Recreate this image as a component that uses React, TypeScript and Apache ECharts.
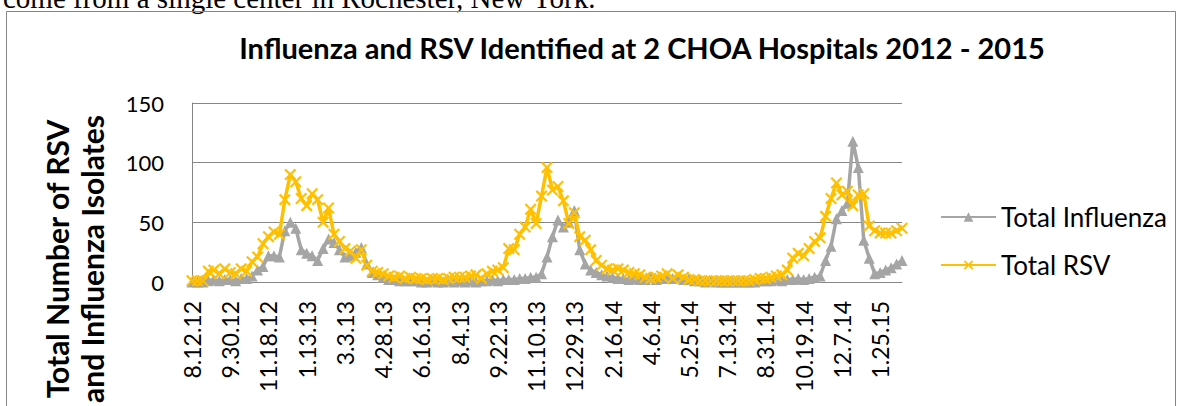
import React, { useEffect, useRef } from "react";
import * as echarts from "echarts";

const dates = ["8.12.12","8.19.12","8.26.12","9.2.12","9.9.12","9.16.12","9.23.12","9.30.12","10.7.12","10.14.12","10.21.12","10.28.12","11.4.12","11.11.12","11.18.12","11.25.12","12.2.12","12.9.12","12.16.12","12.30.12","1.6.13","1.13.13","1.20.13","1.27.13","2.3.13","2.10.13","2.17.13","2.24.13","3.3.13","3.10.13","3.17.13","3.24.13","3.31.13","4.14.13","4.21.13","4.28.13","5.5.13","5.12.13","5.19.13","5.26.13","6.2.13","6.9.13","6.16.13","6.23.13","6.30.13","7.7.13","7.14.13","7.21.13","7.28.13","8.4.13","8.11.13","8.18.13","8.25.13","9.1.13","9.8.13","9.15.13","9.22.13","9.29.13","10.6.13","10.13.13","10.20.13","10.27.13","11.3.13","11.10.13","11.17.13","11.24.13","12.1.13","12.8.13","12.15.13","12.22.13","12.29.13","1.5.14","1.12.14","1.19.14","1.26.14","2.2.14","2.9.14","2.16.14","2.23.14","3.2.14","3.9.14","3.16.14","3.23.14","3.30.14","4.6.14","4.13.14","4.20.14","4.27.14","5.4.14","5.11.14","5.18.14","5.25.14","6.1.14","6.8.14","6.15.14","6.22.14","6.29.14","7.6.14","7.13.14","7.20.14","7.27.14","8.3.14","8.10.14","8.17.14","8.24.14","8.31.14","9.7.14","9.14.14","9.21.14","9.28.14","10.5.14","10.12.14","10.19.14","10.26.14","11.2.14","11.9.14","11.16.14","11.23.14","11.30.14","12.7.14","12.14.14","12.21.14","12.28.14","1.4.15","1.11.15","1.18.15","1.25.15","2.1.15","2.8.15","2.15.15","2.22.15"];

const totalInfluenza = [
  0, 0, 0, 1, 2, 1, 2, 2, 1, 3,
  3, 5, 10, 13, 22, 22, 21, 43, 50, 45,
  27, 24, 22, 18, 28, 36, 33, 27, 21, 22,
  25, 29, 15, 8, 6, 4, 2, 2, 1, 1,
  1, 1, 0, 0, 1, 0, 0, 1, 0, 1,
  0, 1, 0, 1, 1, 2, 1, 2, 2, 2,
  3, 3, 4, 4, 7, 21, 38, 52, 46, 50,
  60, 27, 15, 10, 8, 6, 5, 4, 3, 3,
  2, 3, 2, 2, 4, 2, 3, 5, 3, 4,
  2, 3, 1, 1, 0, 1, 0, 0, 0, 0,
  0, 0, 0, 0, 1, 1, 1, 2, 1, 2,
  2, 3, 2, 3, 4, 5, 18, 30, 53, 60,
  66, 118, 96, 35, 20, 7, 8, 10, 12, 15,
  18
];

const totalRSV = [
  1, 1, 1, 9, 10, 7, 11, 8, 7, 11,
  9, 17, 21, 32, 38, 42, 40, 69, 90, 84,
  70, 64, 74, 69, 50, 62, 40, 34, 28, 26,
  20, 27, 14, 9, 8, 7, 5, 4, 5, 3,
  4, 3, 3, 2, 3, 3, 2, 3, 4, 4,
  4, 5, 6, 3, 7, 9, 10, 12, 28, 27,
  40, 46, 61, 49, 72, 96, 77, 80, 68, 49,
  58, 38, 35, 27, 18, 14, 11, 10, 11, 10,
  8, 7, 6, 4, 3, 4, 5, 7, 3, 6,
  4, 2, 2, 1, 1, 1, 1, 1, 1, 1,
  1, 1, 1, 2, 3, 3, 4, 5, 6, 10,
  20, 24, 22, 28, 34, 37, 55, 70, 83, 73,
  76, 64, 73, 74, 47, 43, 41, 41, 41, 43,
  45
];

const yTicks = { min: 0, max: 150, interval: 50 };

const FONT = "Lato";
const X_SYMBOL = "path://M0,1.3L1.3,0L10,8.7L8.7,10ZM8.7,0L10,1.3L1.3,10L0,8.7Z";

export default function App() {
  const ref = useRef<HTMLDivElement>(null);
  useEffect(() => {
    if (!ref.current) return;
    const chart = echarts.init(ref.current, null, { renderer: "svg" });
    chart.setOption({
      animation: false,
      backgroundColor: "#ffffff",
      textStyle: { fontFamily: FONT },
      graphic: [
        {
          type: "text",
          x: 3,
          y: -2,
          style: {
            text: "come from a single center in Rochester, New York.",
            font: '29px "Liberation Serif"',
            fill: "#000",
            verticalAlign: "middle",
          },
        },
        {
          type: "rect",
          shape: { x: 6.5, y: 11.5, width: 1169, height: 430 },
          style: { fill: "none", stroke: "#868686", lineWidth: 1 },
          silent: true,
        },
        {
          type: "text",
          x: 642,
          y: 47,
          style: {
            text: "Influenza and RSV Identified at 2 CHOA Hospitals 2012 - 2015",
            font: 'bold 29px "Lato"',
            fill: "#000",
            align: "center",
            verticalAlign: "middle",
          },
        },
        {
          type: "text",
          x: 74,
          y: 259,
          rotation: Math.PI / 2,
          style: {
            text: "Total Number of RSV\nand Influenza Isolates",
            font: 'bold 30px "Lato"',
            lineHeight: 35,
            fill: "#000",
            align: "center",
            verticalAlign: "middle",
          },
        },
      ],
      legend: {
        orient: "vertical",
        left: 935,
        top: 199,
        itemWidth: 55,
        itemHeight: 12,
        itemGap: 22,
        textStyle: { fontFamily: FONT, fontSize: 26, color: "#000" },
        data: ["Total Influenza", "Total RSV"],
      },
      grid: { left: 192, right: 278, top: 103, bottom: 124, containLabel: false },
      xAxis: {
        type: "category",
        data: dates,
        boundaryGap: false,
        axisLine: { lineStyle: { color: "#868686", width: 1 } },
        axisTick: { show: false },
        axisLabel: {
          interval: 6,
          rotate: 90,
          margin: 19,
          fontFamily: FONT,
          fontSize: 23,
          color: "#000",
        },
      },
      yAxis: {
        type: "value",
        min: yTicks.min,
        max: yTicks.max,
        interval: yTicks.interval,
        axisLine: { show: true, lineStyle: { color: "#868686", width: 1 } },
        axisTick: { show: false },
        splitLine: { lineStyle: { color: "#868686", width: 1 } },
        axisLabel: { margin: 28, fontFamily: FONT, fontSize: 22, color: "#000" },
      },
      series: [
        {
          name: "Total Influenza",
          type: "line",
          data: totalInfluenza,
          symbol: "triangle",
          symbolSize: 11,
          showAllSymbol: true,
          lineStyle: { color: "#A5A5A5", width: 3.5 },
          itemStyle: { color: "#A5A5A5" },
        },
        {
          name: "Total RSV",
          type: "line",
          data: totalRSV,
          symbol: X_SYMBOL,
          symbolSize: 12,
          showAllSymbol: true,
          lineStyle: { color: "#FFC000", width: 3.5 },
          itemStyle: { color: "#FFC000" },
        },
      ],
    });
    return () => chart.dispose();
  }, []);
  return (
    <div
      ref={ref}
      style={{ position: "absolute", left: 0, top: 0, width: 1180, height: 406 }}
    />
  );
}
